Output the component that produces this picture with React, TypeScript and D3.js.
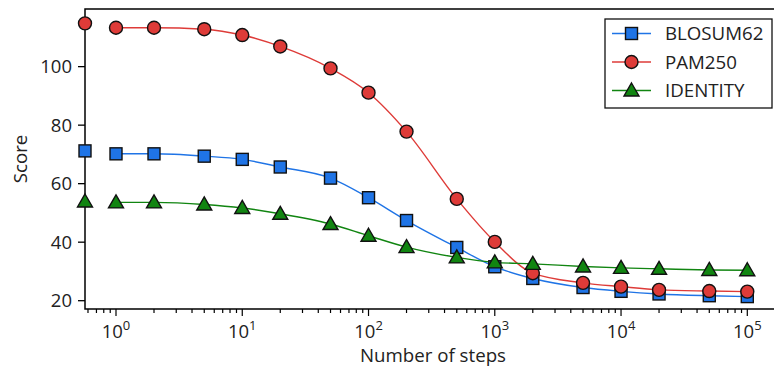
import * as d3 from "d3";
import { useEffect, useRef } from "react";

const steps = [0, 1, 2, 5, 10, 20, 50, 100, 200, 500, 1000, 2000, 5000, 10000, 20000, 50000, 100000];
const blosum62 = [71.2, 70.2, 70.2, 69.4, 68.3, 65.7, 61.9, 55.2, 47.4, 38.2, 31.6, 27.6, 24.5, 23.2, 22.3, 21.7, 21.4];
const pam250 = [114.8, 113.3, 113.3, 112.8, 110.8, 106.9, 99.4, 91.1, 77.8, 54.8, 40.1, 29.4, 26.1, 24.8, 23.7, 23.3, 23.1];
const identity = [53.9, 53.6, 53.6, 52.9, 51.7, 49.7, 46.2, 42.2, 38.3, 34.8, 33.1, 32.6, 31.7, 31.2, 30.9, 30.5, 30.4];
const yTicks = [20, 40, 60, 80, 100];
const xDecades = [0, 1, 2, 3, 4, 5];

const series = [
  { name: "BLOSUM62", values: blosum62, color: "#1f74e6", shape: "square" },
  { name: "PAM250", values: pam250, color: "#de3b38", shape: "circle" },
  { name: "IDENTITY", values: identity, color: "#118511", shape: "triangle" },
];

export default function App() {
  const ref = useRef<SVGSVGElement>(null);

  useEffect(() => {
    const svg = d3.select(ref.current);
    svg.selectAll("*").remove();

    const width = 774;
    const left = 85, top = 9, bottom = 309;
    const font = "'Open Sans', 'Noto Sans', sans-serif";

    // log x: 1 -> 116px, 1e5 -> 747.3px
    const x = d3.scaleLog().domain([1, 1e5]).range([116, 747.3]);
    const xMin = x.invert(left);
    const xMax = x.invert(width + 6);
    x.domain([xMin, xMax]).range([left, width + 6]);
    const px = (s: number) => (s <= 0 ? left : x(s));

    const y = d3.scaleLinear().domain([17.16, 119.7]).range([bottom, top]);

    // frame (top + left + bottom), right side runs off the canvas
    svg.append("path")
      .attr("d", `M${width + 10},${top}H${left}V${bottom}H${width + 10}`)
      .attr("fill", "none")
      .attr("stroke", "#000")
      .attr("stroke-width", 1.5);

    // y ticks
    const yg = svg.append("g");
    yTicks.forEach((t) => {
      yg.append("line")
        .attr("x1", left - 7).attr("x2", left)
        .attr("y1", y(t)).attr("y2", y(t))
        .attr("stroke", "#000").attr("stroke-width", 1.3);
      yg.append("text")
        .attr("x", left - 13).attr("y", y(t))
        .attr("dy", "0.36em")
        .attr("text-anchor", "end")
        .attr("font-family", font)
        .attr("font-size", 18.5)
        .attr("fill", "#222")
        .text(t);
    });

    // x ticks
    const xg = svg.append("g");
    const [d0, d1] = [Math.floor(Math.log10(xMin)), Math.ceil(Math.log10(xMax))];
    for (let e = d0; e <= d1; e++) {
      for (let m = 1; m < 10; m++) {
        const v = m * Math.pow(10, e);
        if (v < xMin || v > xMax) continue;
        const xx = x(v);
        if (xx > width) continue;
        xg.append("line")
          .attr("x1", xx).attr("x2", xx)
          .attr("y1", bottom).attr("y2", bottom + (m === 1 ? 7 : 4))
          .attr("stroke", "#000").attr("stroke-width", 1.2);
      }
    }
    xDecades.forEach((e) => {
      const t = xg.append("text")
        .attr("x", x(Math.pow(10, e)))
        .attr("y", 337.5)
        .attr("text-anchor", "middle")
        .attr("font-family", font)
        .attr("font-size", 18.5)
        .attr("fill", "#222");
      t.append("tspan").text("10");
      t.append("tspan").attr("dy", -7.5).attr("font-size", 13).text(e);
    });

    // axis labels
    svg.append("text")
      .attr("x", 433)
      .attr("y", 362)
      .attr("text-anchor", "middle")
      .attr("font-family", font)
      .attr("font-size", 18.7)
      .attr("fill", "#222")
      .text("Number of steps");
    svg.append("text")
      .attr("transform", `translate(27,${(top + bottom) / 2}) rotate(-90)`)
      .attr("text-anchor", "middle")
      .attr("font-family", font)
      .attr("font-size", 18.7)
      .attr("fill", "#222")
      .text("Score");

    const line = d3.line<number>()
      .x((_, i) => px(steps[i + 1]))
      .y((d) => y(d))
      .curve(d3.curveMonotoneX);

    const marker = (g: any, shape: string, cx: number, cy: number, color: string) => {
      if (shape === "square") {
        g.append("rect")
          .attr("x", cx - 6).attr("y", cy - 6)
          .attr("width", 12).attr("height", 12)
          .attr("fill", color).attr("stroke", "#111").attr("stroke-width", 1.4);
      } else if (shape === "circle") {
        g.append("circle")
          .attr("cx", cx).attr("cy", cy).attr("r", 6.5)
          .attr("fill", color).attr("stroke", "#111").attr("stroke-width", 1.4);
      } else {
        g.append("path")
          .attr("d", `M${cx},${cy - 7.5}L${cx + 7.5},${cy + 5.5}L${cx - 7.5},${cy + 5.5}Z`)
          .attr("fill", color).attr("stroke", "#111").attr("stroke-width", 1.4);
      }
    };

    series.forEach((s) => {
      svg.append("path")
        .attr("d", line(s.values.slice(1)))
        .attr("fill", "none")
        .attr("stroke", s.color)
        .attr("stroke-width", 1.4);
    });
    series.forEach((s) => {
      const g = svg.append("g");
      s.values.forEach((v, i) => marker(g, s.shape, px(steps[i]), y(v), s.color));
    });

    // legend
    const lg = svg.append("g");
    lg.append("rect")
      .attr("x", 605).attr("y", 19)
      .attr("width", 167).attr("height", 89)
      .attr("fill", "#fff").attr("stroke", "#111").attr("stroke-width", 1.3);
    series.forEach((s, i) => {
      const yy = 33.5 + i * 28.5;
      lg.append("line")
        .attr("x1", 612).attr("x2", 651)
        .attr("y1", yy).attr("y2", yy)
        .attr("stroke", s.color).attr("stroke-width", 1.4);
      marker(lg, s.shape, 631.5, yy, s.color);
      lg.append("text")
        .attr("x", 665).attr("y", yy)
        .attr("dy", "0.36em")
        .attr("font-family", font)
        .attr("font-size", 18.7)
        .attr("fill", "#222")
        .text(s.name);
    });
  }, []);

  return (
    <svg
      ref={ref}
      width={774}
      height={367}
      style={{ position: "absolute", left: 0, top: 0, background: "#fff" }}
    />
  );
}
